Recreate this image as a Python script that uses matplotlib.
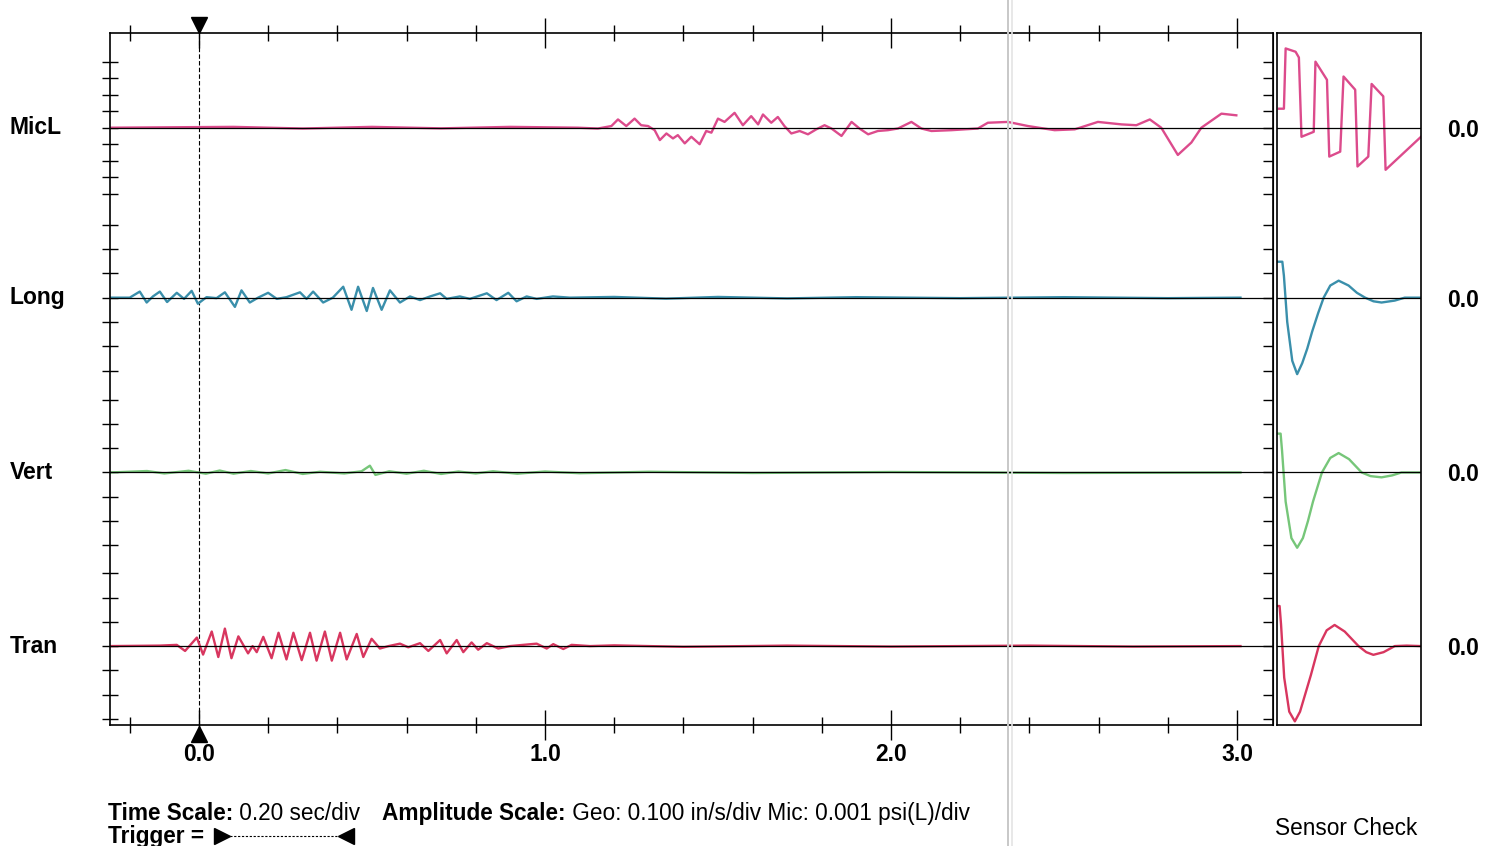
import numpy as np
import matplotlib
matplotlib.use('Agg')
import matplotlib.pyplot as plt
import matplotlib.transforms as mtrans
from matplotlib.lines import Line2D

plt.rcParams['font.family'] = ['Liberation Sans', 'DejaVu Sans']

channels = ['MicL', 'Long', 'Vert', 'Tran']
colors = ['#dc4b8c', '#3a8fab', '#76c679', '#d8365f']
offsets = [24.6, 17.6, 10.4, 3.25]   # baseline of each channel (geo divisions)
mic_div = 0.68                        # one mic division measured in geo divisions

time_ticks = [0.0, 1.0, 2.0, 3.0]
time_labels = ['0.0', '1.0', '2.0', '3.0']

micl_t = [-0.257, 0.1, 0.3, 0.5, 0.7, 0.9, 1.095, 1.153, 1.192, 1.211, 1.235, 1.259, 1.278,
          1.298, 1.317, 1.332, 1.351, 1.37, 1.384, 1.404, 1.423, 1.447, 1.466, 1.481, 1.5,
          1.519, 1.548, 1.572, 1.596, 1.616, 1.63, 1.654, 1.673, 1.692, 1.712, 1.736, 1.76,
          1.784, 1.808, 1.828, 1.857, 1.886, 1.909, 1.934, 1.962, 1.991, 2.02, 2.059, 2.088,
          2.117, 2.175, 2.251, 2.28, 2.338, 2.396, 2.473, 2.531, 2.598, 2.666, 2.709, 2.748,
          2.781, 2.829, 2.868, 2.897, 2.955, 2.998]
micl_a = [0.0, 0.05, -0.05, 0.05, -0.04, 0.05, 0.0, -0.05, 0.1, 0.5, 0.1, 0.55, 0.15,
          0.1, -0.15, -0.75, -0.35, -0.65, -0.45, -0.95, -0.55, -1.0, -0.2, -0.3, 0.55,
          0.35, 0.9, 0.15, 0.7, 0.2, 0.8, 0.3, 0.65, 0.1, -0.35, -0.2, -0.4,
          -0.1, 0.15, -0.05, -0.5, 0.35, -0.05, -0.4, -0.2, -0.15, -0.05, 0.35, -0.05,
          -0.2, -0.15, -0.05, 0.3, 0.35, 0.1, -0.15, -0.1, 0.35, 0.2, 0.15, 0.5,
          0.0, -1.65, -0.9, 0.0, 0.85, 0.75]

long_t = [-0.257, -0.2, -0.171, -0.151, -0.133, -0.113, -0.092, -0.064, -0.043, -0.021, -0.003,
          0.022, 0.051, 0.075, 0.104, 0.123, 0.147, 0.171, 0.2, 0.225, 0.253, 0.292, 0.311,
          0.33, 0.359, 0.387, 0.417, 0.441, 0.46, 0.485, 0.503, 0.528, 0.552, 0.581, 0.61,
          0.639, 0.668, 0.697, 0.716, 0.754, 0.783, 0.832, 0.86, 0.894, 0.918, 0.947, 0.976,
          1.023, 1.072, 1.2, 1.35, 1.5, 1.7, 1.9, 2.2, 2.5, 2.8, 3.01]
long_a = [0.0, 0.0, 0.25, -0.2, 0.05, 0.25, -0.18, 0.2, -0.05, 0.28, -0.25,
          0.02, -0.02, 0.22, -0.38, 0.3, -0.2, 0.0, 0.2, -0.05, 0.02, 0.22, -0.05,
          0.25, -0.2, 0.0, 0.45, -0.5, 0.45, -0.55, 0.4, -0.5, 0.3, -0.2, 0.05,
          -0.1, 0.05, 0.18, -0.05, 0.05, -0.05, 0.18, -0.1, 0.2, -0.15, 0.05, -0.05,
          0.05, 0.0, 0.03, -0.04, 0.03, -0.03, 0.02, -0.02, 0.02, -0.02, 0.0]

vert_t = [-0.257, -0.15, -0.1, -0.03, 0.02, 0.06, 0.1, 0.15, 0.2, 0.25, 0.3, 0.35, 0.42,
          0.47, 0.494, 0.51, 0.55, 0.6, 0.65, 0.7, 0.75, 0.8, 0.85, 0.92, 1.0, 1.1, 1.3,
          1.6, 2.0, 2.5, 3.01]
vert_a = [0.0, 0.06, -0.04, 0.07, -0.05, 0.08, -0.05, 0.06, -0.04, 0.1, -0.06, 0.03, -0.04,
          0.05, 0.28, -0.1, 0.05, -0.05, 0.07, -0.06, 0.04, -0.04, 0.05, -0.05, 0.04, -0.03, 0.03,
          -0.02, 0.02, -0.02, 0.0]

tran_t = [-0.257, -0.113, -0.064, -0.04, -0.006, 0.012, 0.037, 0.056, 0.075, 0.094, 0.114,
          0.142, 0.155, 0.167, 0.186, 0.21, 0.23, 0.253, 0.273, 0.297, 0.321, 0.34, 0.364,
          0.384, 0.408, 0.427, 0.456, 0.475, 0.499, 0.523, 0.548, 0.581, 0.605, 0.639, 0.663,
          0.697, 0.716, 0.745, 0.764, 0.788, 0.807, 0.832, 0.865, 0.899, 0.937, 0.976, 1.005,
          1.024, 1.053, 1.077, 1.13, 1.2, 1.4, 1.7, 2.0, 2.4, 2.7, 3.01]
tran_a = [0.0, 0.02, 0.05, -0.2, 0.35, -0.35, 0.6, -0.45, 0.72, -0.5, 0.4,
          -0.3, 0.0, -0.25, 0.38, -0.5, 0.55, -0.55, 0.55, -0.58, 0.55, -0.6, 0.6,
          -0.6, 0.55, -0.55, 0.5, -0.45, 0.3, -0.1, 0.0, 0.1, -0.05, 0.12, -0.2,
          0.25, -0.3, 0.25, -0.25, 0.15, -0.15, 0.12, -0.1, 0.0, 0.05, 0.1, -0.1,
          0.08, -0.12, 0.05, 0.0, 0.03, -0.03, 0.02, -0.02, 0.02, -0.02, 0.0]

# sensor check panel: position across panel (0..1), amplitude (div)
sc_micl_s = [0.014, 0.048, 0.06, 0.129, 0.152, 0.17, 0.255, 0.267, 0.347, 0.363, 0.439,
             0.462, 0.543, 0.559, 0.634, 0.657, 0.738, 0.754, 1.0]
sc_micl_a = [1.15, 1.15, 4.8, 4.6, 4.25, -0.55, -0.25, 4.0, 2.9, -1.75, -1.45,
             3.1, 2.3, -2.35, -1.75, 2.65, 1.9, -2.55, -0.55]
sc_long_s = [0.002, 0.037, 0.048, 0.071, 0.106, 0.14, 0.175, 0.21, 0.244, 0.285, 0.324,
             0.37, 0.428, 0.497, 0.555, 0.612, 0.67, 0.726, 0.818, 0.887, 1.0]
sc_long_a = [1.48, 1.48, 0.9, -1.0, -2.6, -3.15, -2.7, -2.1, -1.4, -0.65, 0.0,
             0.5, 0.7, 0.5, 0.2, 0.0, -0.15, -0.2, -0.12, 0.0, 0.0]
sc_vert_s = [0.0, 0.025, 0.035, 0.06, 0.1, 0.14, 0.18, 0.215, 0.25, 0.312, 0.37, 0.428,
             0.5, 0.588, 0.65, 0.726, 0.8, 0.864, 1.0]
sc_vert_a = [1.6, 1.6, 0.9, -1.2, -2.7, -3.1, -2.7, -2.0, -1.2, 0.0, 0.6, 0.8,
             0.55, 0.0, -0.15, -0.2, -0.12, 0.0, 0.0]
sc_tran_s = [0.0, 0.018, 0.028, 0.05, 0.085, 0.124, 0.16, 0.195, 0.235, 0.29, 0.345, 0.4,
             0.47, 0.566, 0.62, 0.669, 0.74, 0.818, 0.9, 1.0]
sc_tran_a = [1.65, 1.65, 0.9, -1.3, -2.7, -3.1, -2.7, -2.0, -1.2, 0.0, 0.65, 0.87,
             0.6, 0.0, -0.25, -0.36, -0.25, 0.0, 0.02, 0.0]

records = [(micl_t, micl_a), (long_t, long_a), (vert_t, vert_a), (tran_t, tran_a)]
checks = [(sc_micl_s, sc_micl_a), (sc_long_s, sc_long_a), (sc_vert_s, sc_vert_a), (sc_tran_s, sc_tran_a)]
scales = [mic_div, 1.0, 1.0, 1.0]

W, H = 1487, 846
fig = plt.figure(figsize=(W / 100, H / 100), dpi=100)


def box(l, t, r, b):
    return [l / W, 1 - b / H, (r - l) / W, (b - t) / H]


ax = fig.add_axes(box(110, 33, 1273, 725))
ax2 = fig.add_axes(box(1277, 33, 1421, 725))

for a in (ax, ax2):
    a.set_ylim(0, 28.5)
    for sp in a.spines.values():
        sp.set_linewidth(1.2)

ax.set_xlim(-0.257, 3.104)
ax2.set_xlim(0, 1)

# traces + zero lines
for name, col, off, sc, (t, amp), (s, samp) in zip(channels, colors, offsets, scales, records, checks):
    ax.plot(t, off + np.array(amp) * sc, color=col, lw=1.7, zorder=2, solid_joinstyle='round')
    ax2.plot(s, off + np.array(samp) * sc, color=col, lw=1.7, zorder=2, solid_joinstyle='round')
    ax.axhline(off, color='black', lw=0.9, zorder=3)
    ax2.axhline(off, color='black', lw=0.9, zorder=3)
    ax.text(-0.086, off, name, transform=mtrans.blended_transform_factory(ax.transAxes, ax.transData),
            ha='left', va='center', fontsize=16.5, fontweight='bold')

# time axis
ax.set_xticks(time_ticks, time_labels)
ax.set_xticks([-0.2, 0.2, 0.4, 0.6, 0.8, 1.2, 1.4, 1.6, 1.8, 2.2, 2.4, 2.6, 2.8], minor=True)
ax.tick_params(axis='x', which='both', direction='inout', top=True, bottom=True, width=1)
ax.tick_params(axis='x', which='major', length=22, pad=2, labelsize=16.5)
ax.tick_params(axis='x', which='minor', length=11)
for lbl in ax.get_xticklabels():
    lbl.set_fontweight('bold')

# amplitude division ticks
yt = []
for off, sc in zip(offsets, scales):
    n = 4 if sc != 1.0 else 3
    yt += [off + k * sc for k in range(-n, n + 1)]
ax.set_yticks(yt)
ax.set_yticklabels([])
ax.tick_params(axis='y', direction='inout', length=11, width=1)
sec = ax.secondary_yaxis('right')
sec.set_yticks(yt)
sec.set_yticklabels([])
sec.tick_params(direction='in', length=7, width=1)

# trigger marker
ax.axvline(0, color='black', ls=(0, (4, 2)), lw=0.8, zorder=1)
up = ax.get_xaxis_transform() + mtrans.ScaledTranslation(0, 0.085, fig.dpi_scale_trans)
dn = ax.get_xaxis_transform() + mtrans.ScaledTranslation(0, -0.085, fig.dpi_scale_trans)
ax.plot([0], [1], marker='v', ms=12, color='black', transform=up, clip_on=False)
ax.plot([0], [0], marker='^', ms=12, color='black', transform=dn, clip_on=False)

# sensor check panel
ax2.set_xticks([])
ax2.set_yticks(offsets, ['0.0'] * 4)
ax2.tick_params(axis='y', left=False, right=True, labelleft=False, labelright=True,
                length=0, pad=19, labelsize=16.5)
for lbl in ax2.get_yticklabels():
    lbl.set_fontweight('bold')

# footer text
fs = 16.3
t1 = fig.text(108 / W, 1 - 813 / H, 'Time Scale:', fontsize=fs, fontweight='bold', va='center')
ax.annotate(' 0.20 sec/div', xy=(1, 0), xycoords=t1, va='bottom', fontsize=fs, annotation_clip=False)
t3 = fig.text(382 / W, 1 - 813 / H, 'Amplitude Scale:', fontsize=fs, fontweight='bold', va='center')
ax.annotate(' Geo: 0.100 in/s/div Mic: 0.001 psi(L)/div', xy=(1, 0), xycoords=t3, va='bottom',
            fontsize=fs, annotation_clip=False)
fig.text(108 / W, 1 - 836 / H, 'Trigger =', fontsize=fs, fontweight='bold', va='center')
ty = 1 - 836 / H
fig.add_artist(Line2D([222 / W, 346 / W], [ty, ty], transform=fig.transFigure,
                      color='black', lw=0.8, ls=(0, (2, 1.5))))
fig.add_artist(Line2D([222 / W], [ty], transform=fig.transFigure, marker='>', ms=11, color='black'))
fig.add_artist(Line2D([346 / W], [ty], transform=fig.transFigure, marker='<', ms=11, color='black'))
fig.text(1346 / W, 1 - 828 / H, 'Sensor Check', fontsize=fs, ha='center', va='center')

# fold of the scanned page
fig.add_artist(Line2D([1008 / W, 1008 / W], [0, 1], transform=fig.transFigure, color='#c8c8c8', lw=1.4))
fig.add_artist(Line2D([1012 / W, 1012 / W], [0, 1], transform=fig.transFigure, color='#e4e4e4', lw=1.2))

fig.savefig('out.png', dpi=100)
